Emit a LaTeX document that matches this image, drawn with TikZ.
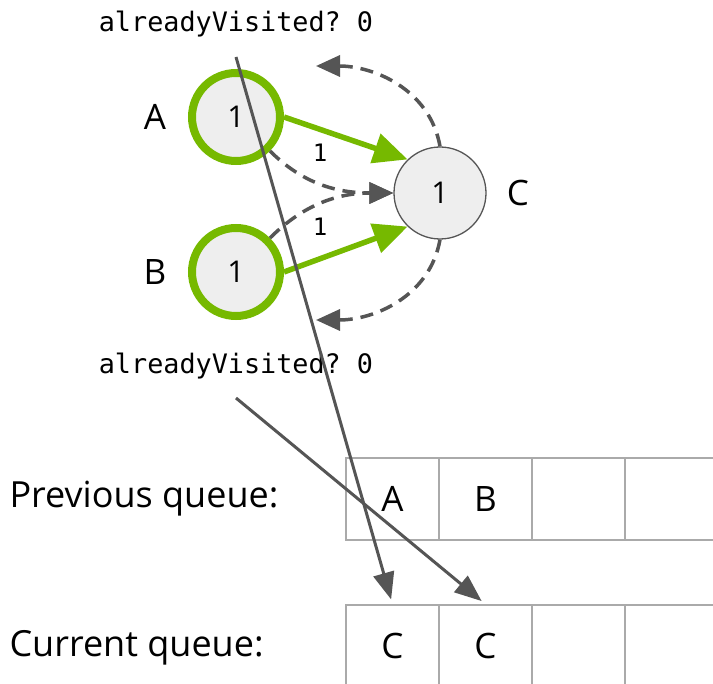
\documentclass[tikz,border=0pt]{standalone}
\usepackage{fontspec}
\setmainfont{Open Sans}
\setmonofont{DejaVu Sans Mono}
\usetikzlibrary{arrows.meta}

\definecolor{nvgreen}{HTML}{76B900}
\definecolor{nodefill}{HTML}{EEEEEE}
\definecolor{darkline}{HTML}{555555}
\definecolor{cellline}{HTML}{AAAAAA}

\tikzset{
  visited/.style={circle, draw=nvgreen, line width=8pt, fill=nodefill, minimum size=88pt, inner sep=0pt, font=\fontsize{30}{32}\selectfont},
  target/.style={circle, draw=darkline, line width=1.3pt, fill=nodefill, minimum size=92pt, inner sep=0pt, font=\fontsize{30}{32}\selectfont},
  name label/.style={font=\fontsize{35}{38}\selectfont},
  edge label/.style={font=\ttfamily\fontsize{24}{26}\selectfont},
  flag/.style={font=\ttfamily\fontsize{26.8}{28}\selectfont},
  cell/.style={draw=cellline, line width=1.5pt, minimum width=93pt, minimum height=82pt, inner sep=0pt, font=\fontsize{35}{38}\selectfont},
  greenarrow/.style={nvgreen, line width=5.5pt, -{Triangle[length=34pt, width=30pt]}},
  dasharrow/.style={darkline, line width=3.5pt, dash pattern=on 13pt off 8pt, -{Triangle[length=24pt, width=21pt]}},
  queuearrow/.style={darkline, line width=3pt, -{Triangle[length=27pt, width=21pt]}},
}

\begin{document}
\begin{tikzpicture}[x=1pt, y=-1pt]
    \clip (0,0) rectangle (713,684);

    % draw the three vertices
    \node[visited] (a) at (236,117) {1};
    \node[visited] (b) at (236,272) {1};
    \node[target]  (c) at (440,193) {1};
    \node[name label] (alabel) at (155,117) {A};
    \node[name label] (blabel) at (155,272) {B};
    \node[name label] (clabel) at (518,193) {C};

    % draw the flags
    \node[flag] (vtop) at (236,24) {alreadyVisited? 0};
    \node[flag] (vbot) at (236,366) {alreadyVisited? 0};
    \coordinate (vtopfoot) at (236,57);
    \coordinate (vbotfoot) at (236,398);

    % draw the queues
    \node[anchor=west, font=\fontsize{36}{38}\selectfont] (prevtext) at (6,499) {Previous queue:};
    \node[anchor=west, font=\fontsize{36}{38}\selectfont] (curtext) at (6,648) {Current queue:};
    \node[cell] (prev1) at (392.5,499) {A};
    \node[cell] (prev2) at (485.5,499) {B};
    \node[cell] (prev3) at (578.5,499) {};
    \node[cell] (prev4) at (671.5,499) {};
    \node[cell] (cur1) at (392.5,646) {C};
    \node[cell] (cur2) at (485.5,646) {C};
    \node[cell] (cur3) at (578.5,646) {};
    \node[cell] (cur4) at (671.5,646) {};

    % draw the edges
    \draw[greenarrow] (a.east) -- (c.134);
    \draw[greenarrow] (b.east) -- (c.226);
    \node[edge label] (wa) at (320,153) {1};
    \node[edge label] (wb) at (320,227) {1};
    \draw[dasharrow] (a.-45) to[out=-45, in=180] (c.west);
    \draw[dasharrow] (b.45) to[out=45, in=180] (c.west);

    % draw the loops back to the flags
    \coordinate (looptop) at (316,66);
    \coordinate (loopbot) at (316,320);
    \draw[dasharrow] (c.north) to[out=100, in=0] (looptop);
    \draw[dasharrow] (c.south) to[out=-100, in=0] (loopbot);

    % draw the flag updates
    \draw[queuearrow, shorten >=5pt] (vtopfoot) -- (cur1.north);
    \draw[queuearrow, shorten >=5pt] (vbotfoot) -- (cur2.north);
\end{tikzpicture}
\end{document}
